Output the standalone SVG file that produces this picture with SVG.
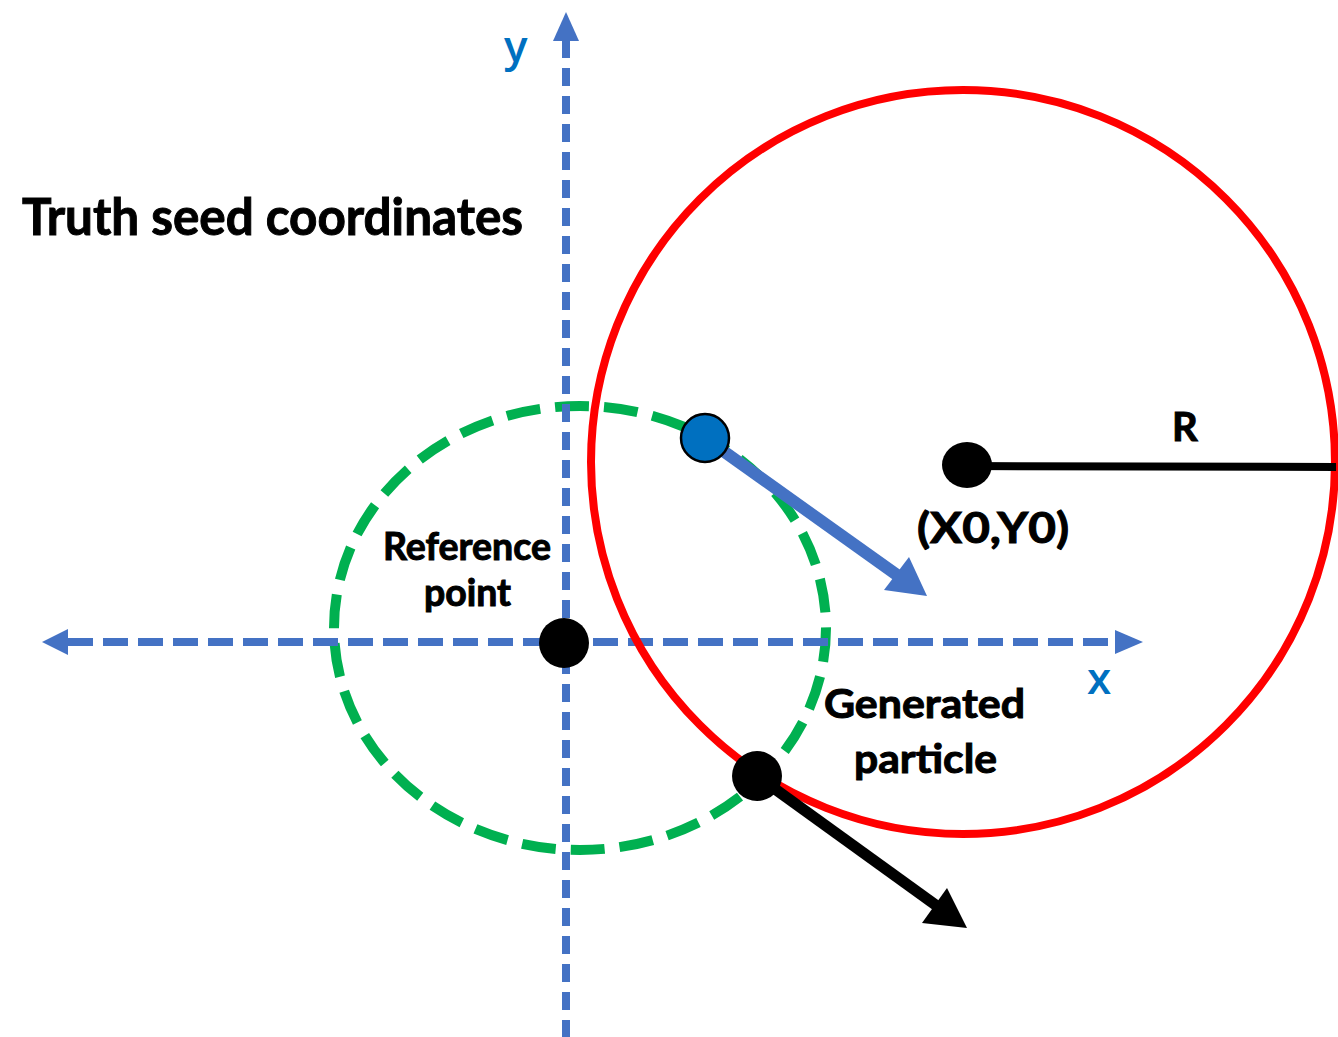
<svg xmlns="http://www.w3.org/2000/svg" width="1338" height="1037" viewBox="0 0 1338 1037">
<style>
.lbl{font-family:Lato,"Open Sans","Liberation Sans",sans-serif;font-weight:bold;fill:#000;stroke:#000;stroke-width:1}
.ax{font-family:"Open Sans",Lato,"Liberation Sans",sans-serif;font-weight:600;fill:#0070C0}
.axis{stroke:#4472C4;stroke-width:8;fill:none}
.head{fill:#4472C4}
</style>
<rect width="1338" height="1037" fill="#fff"/>
<g id="green-circle">
<ellipse cx="580" cy="628" rx="246" ry="222" fill="none" stroke="#00B050" stroke-width="10" stroke-dasharray="34 15"/>
</g>
<g id="connectors">
<g id="y-axis">
<line class="axis" x1="566" y1="40" x2="566" y2="1037" stroke-dasharray="18 10"/>
<polygon class="head" points="566,12 553,41 579,41"/>
</g>
<g id="x-axis">
<line class="axis" x1="68" y1="642" x2="1115" y2="642" stroke-dasharray="25 10"/>
<polygon class="head" points="42,642 68,629 68,655"/>
<polygon class="head" points="1143,642 1115,630 1115,654"/>
</g>
</g>
<g id="red-circle">
<circle cx="963" cy="462" r="372" fill="none" stroke="#FF0000" stroke-width="8"/>
</g>
<g id="connectors-arrows">
<g id="blue-arrow">
<line x1="705" y1="438" x2="897" y2="575" stroke="#4472C4" stroke-width="12"/>
<polygon points="927,596 884,590 909,557" fill="#4472C4"/>
</g>
<g id="black-arrow">
<line x1="757" y1="776" x2="937" y2="906" stroke="#000" stroke-width="11"/>
<polygon points="967,928 922,923 947,888" fill="#000"/>
</g>
<g id="radius-line">
<line x1="967" y1="466" x2="1336" y2="467" stroke="#000" stroke-width="8"/>
</g>
</g>
<g id="blue-dot"><circle cx="705" cy="438" r="24" fill="#0070C0" stroke="#000" stroke-width="2.5"/></g>
<g id="reference-point"><ellipse cx="564" cy="643" rx="25" ry="25" fill="#000"/></g>
<g id="center-point"><ellipse cx="967" cy="465" rx="25" ry="23" fill="#000"/></g>
<g id="generated-particle"><circle cx="757" cy="776" r="25" fill="#000"/></g>
<g id="labels">
<text class="lbl" x="22" y="235" font-size="52" textLength="501" lengthAdjust="spacingAndGlyphs">Truth seed coordinates</text>
<text class="lbl" x="383" y="560" font-size="38" textLength="168" lengthAdjust="spacingAndGlyphs">Reference</text>
<text class="lbl" x="424" y="606" font-size="38" textLength="87" lengthAdjust="spacingAndGlyphs">point</text>
<text class="lbl" x="824" y="718" font-size="41" textLength="201" lengthAdjust="spacingAndGlyphs">Generated</text>
<text class="lbl" x="854" y="773" font-size="41" textLength="143" lengthAdjust="spacingAndGlyphs">particle</text>
<text class="lbl" x="917" y="543" font-size="42" textLength="152" lengthAdjust="spacingAndGlyphs">(X0,Y0)</text>
<text class="lbl" x="1172" y="441" font-size="40">R</text>
<text class="ax" x="504" y="62" font-size="44">y</text>
<text class="ax" x="1087" y="694" font-size="44">x</text>
</g>
</svg>
